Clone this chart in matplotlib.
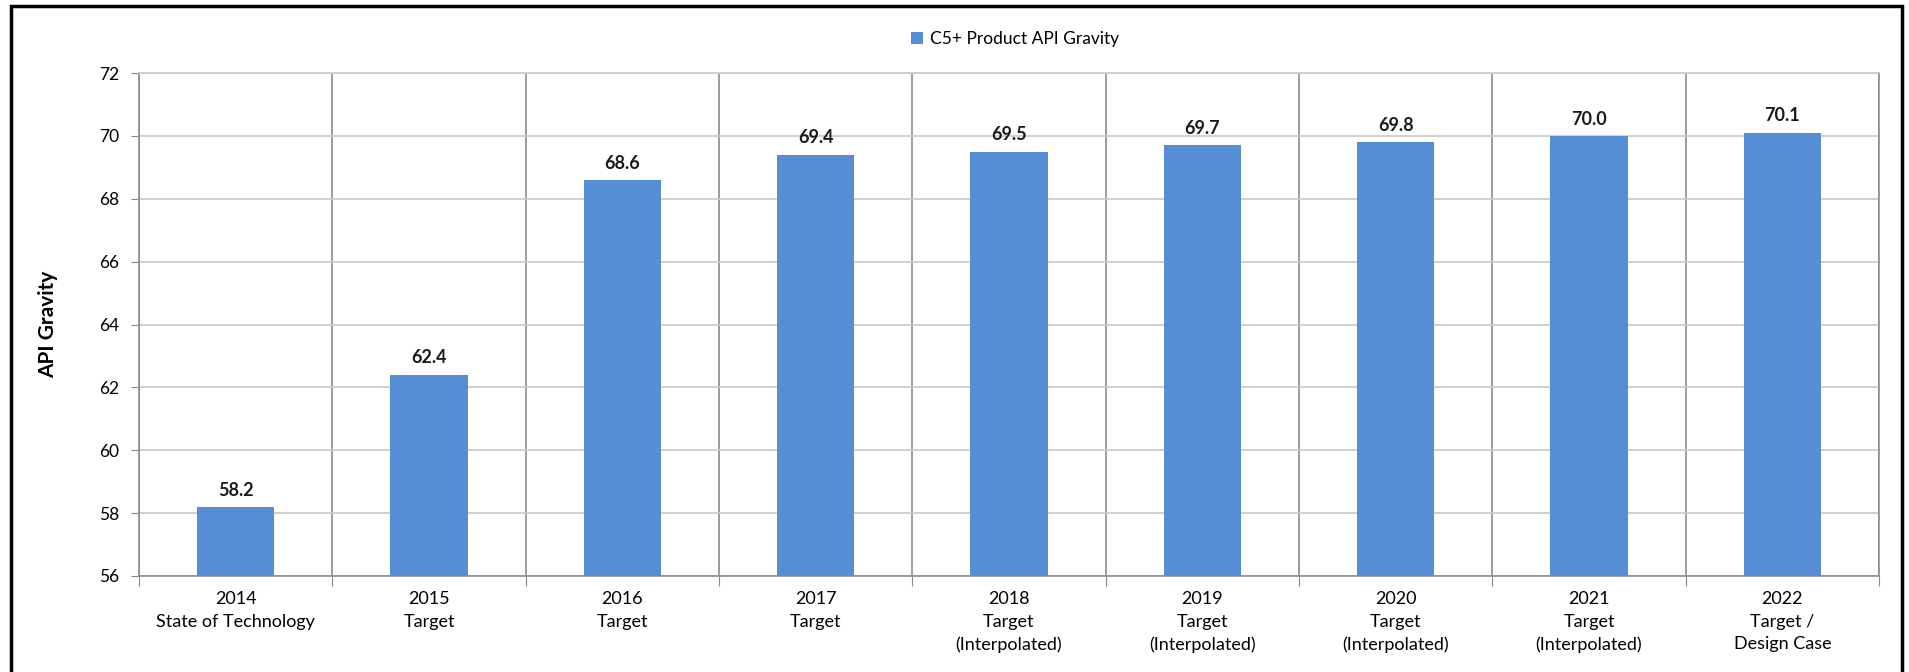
import numpy as np
import matplotlib.pyplot as plt
from matplotlib.patches import Rectangle

plt.rcParams['font.family'] = ['Lato', 'DejaVu Sans']

years = ["2014", "2015", "2016", "2017", "2018", "2019", "2020", "2021", "2022"]
cases = ["State of Technology", "Target", "Target", "Target",
         "Target\n(Interpolated)", "Target\n(Interpolated)", "Target\n(Interpolated)",
         "Target\n(Interpolated)", "Target /\nDesign Case"]
api_gravity = [58.2, 62.4, 68.6, 69.4, 69.5, 69.7, 69.8, 70.0, 70.1]
series_name = "C5+ Product API Gravity"

W, H = 1909, 672
fig = plt.figure(figsize=(W / 100, H / 100), dpi=100)
ax = fig.add_axes([139 / W, 1 - 576 / H, (1879 - 139) / W, (576 - 73) / H])

x = np.arange(len(years))
bars = ax.bar(x, api_gravity, width=0.4, color='#558ED5', label=series_name, zorder=3)
ax.bar_label(bars, fmt='%.1f', padding=6, fontsize=13, fontweight='bold', color='#1a1a1a')

ax.set_xlim(-0.5, len(years) - 0.5)
ax.set_ylim(56, 72)
ax.set_yticks(np.arange(56, 73, 2))
ax.tick_params(axis='y', labelsize=12.5, length=6, color='#888888', pad=8)

# category boundaries carry the tick marks and vertical grid, labels sit at centres
ax.set_xticks(np.arange(-0.5, len(years), 1))
ax.set_xticklabels([])
ax.set_xticks(x, minor=True)
ax.set_xticklabels([f"{y}\n{c}" for y, c in zip(years, cases)], minor=True,
                   fontsize=13, linespacing=1.5)
ax.tick_params(axis='x', which='major', length=7, color='#888888')
ax.tick_params(axis='x', which='minor', length=0, pad=11)

ax.grid(axis='y', color='#c8c8c8', linewidth=1.2, zorder=0)
ax.grid(axis='x', which='major', color='#8c8c8c', linewidth=1.2, zorder=0)
for s in ax.spines.values():
    s.set_color('#8c8c8c')
    s.set_linewidth(1.2)
ax.spines['top'].set_color('#c8c8c8')

ax.set_ylabel("API Gravity", fontsize=15, fontweight='bold', labelpad=30)

fig.legend(loc='center', bbox_to_anchor=(1015 / W, 1 - 39 / H), frameon=False,
           fontsize=12.5, handlelength=0.7, handleheight=0.7, handletextpad=0.4)

# outer black frame of the original chart
fig.patches.append(Rectangle((11 / W, -0.05), (1902 - 11) / W, 1.05 - 6 / H,
                             transform=fig.transFigure, fill=False,
                             edgecolor='black', linewidth=2.5))

fig.savefig("out.png", dpi=100)
